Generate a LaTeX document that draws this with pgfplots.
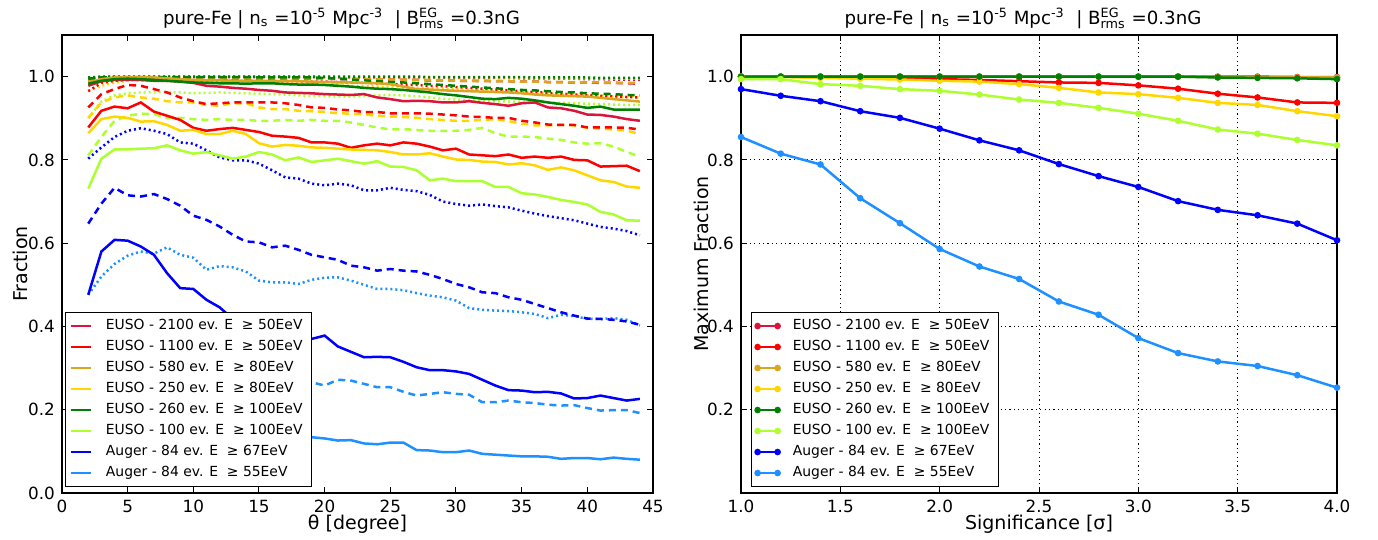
\documentclass[border=0pt]{standalone}
\usepackage{fontspec}
\setmainfont{DejaVu Sans}
\usepackage{amsmath}
\usepackage{pgfplots}
\usepackage{pgfplotstable}
\pgfplotsset{compat=1.18}
\definecolor{crimsonc}{RGB}{220,20,60}
\definecolor{redc}{RGB}{255,0,0}
\definecolor{goldenrodc}{RGB}{218,165,32}
\definecolor{goldc}{RGB}{255,215,0}
\definecolor{greenc}{RGB}{0,128,0}
\definecolor{gyc}{RGB}{173,255,47}
\definecolor{bluec}{RGB}{0,0,255}
\definecolor{dodgerc}{RGB}{30,144,255}

\pgfplotstableread{
x s d o
2 0.978 0.990 0.995
3 0.989 0.995 0.998
4 0.992 0.997 0.999
5 0.993 0.997 0.999
6 0.992 0.997 0.999
7 0.990 0.997 0.999
8 0.990 0.997 0.999
9 0.988 0.997 0.999
10 0.985 0.997 0.999
11 0.978 0.996 0.999
12 0.976 0.996 0.999
13 0.973 0.996 0.999
14 0.971 0.996 0.999
15 0.968 0.996 0.999
16 0.966 0.995 0.999
17 0.962 0.995 0.999
18 0.961 0.995 0.999
19 0.960 0.995 0.999
20 0.958 0.995 0.999
21 0.957 0.994 0.998
22 0.956 0.994 0.998
23 0.958 0.994 0.998
24 0.950 0.993 0.998
25 0.946 0.993 0.998
26 0.941 0.992 0.998
27 0.942 0.992 0.998
28 0.941 0.991 0.998
29 0.938 0.991 0.998
30 0.938 0.990 0.997
31 0.941 0.990 0.997
32 0.937 0.990 0.997
33 0.934 0.989 0.997
34 0.930 0.989 0.997
35 0.936 0.988 0.996
36 0.938 0.988 0.996
37 0.926 0.987 0.996
38 0.924 0.987 0.995
39 0.918 0.986 0.995
40 0.909 0.986 0.994
41 0.908 0.985 0.994
42 0.904 0.985 0.993
43 0.898 0.984 0.993
44 0.894 0.983 0.992
}\crimsonT

\pgfplotstableread{
x s d o
2 0.878 0.926 0.965
3 0.918 0.958 0.985
4 0.928 0.970 0.990
5 0.924 0.980 0.992
6 0.938 0.978 0.992
7 0.916 0.970 0.992
8 0.906 0.962 0.992
9 0.896 0.950 0.992
10 0.877 0.941 0.991
11 0.870 0.934 0.991
12 0.874 0.936 0.991
13 0.877 0.938 0.990
14 0.872 0.938 0.990
15 0.867 0.938 0.990
16 0.858 0.938 0.989
17 0.856 0.936 0.989
18 0.853 0.932 0.989
19 0.842 0.926 0.988
20 0.842 0.925 0.988
21 0.839 0.921 0.987
22 0.829 0.919 0.986
23 0.835 0.915 0.985
24 0.839 0.915 0.984
25 0.835 0.912 0.982
26 0.842 0.912 0.981
27 0.839 0.912 0.980
28 0.832 0.911 0.978
29 0.823 0.909 0.977
30 0.827 0.907 0.975
31 0.813 0.904 0.973
32 0.811 0.903 0.971
33 0.809 0.901 0.969
34 0.813 0.901 0.967
35 0.805 0.894 0.965
36 0.808 0.890 0.963
37 0.805 0.885 0.961
38 0.808 0.884 0.959
39 0.800 0.884 0.957
40 0.799 0.878 0.955
41 0.784 0.878 0.954
42 0.785 0.878 0.953
43 0.786 0.877 0.951
44 0.773 0.873 0.950
}\redT

\pgfplotstableread{
x s d o
2 0.985 0.990 0.997
3 0.994 0.997 1.000
4 0.998 0.998 1.000
5 0.999 0.998 1.000
6 0.999 0.998 1.000
7 0.998 0.998 1.000
8 0.996 0.998 1.000
9 0.994 0.998 1.000
10 0.992 0.998 1.000
11 0.991 0.997 1.000
12 0.991 0.997 1.000
13 0.990 0.997 1.000
14 0.990 0.997 1.000
15 0.990 0.997 1.000
16 0.989 0.996 1.000
17 0.989 0.996 1.000
18 0.989 0.996 0.999
19 0.988 0.996 0.999
20 0.987 0.995 0.999
21 0.986 0.995 0.999
22 0.986 0.995 0.999
23 0.985 0.994 0.999
24 0.984 0.994 0.999
25 0.982 0.993 0.999
26 0.976 0.993 0.999
27 0.970 0.992 0.999
28 0.969 0.992 0.998
29 0.967 0.991 0.998
30 0.966 0.990 0.998
31 0.965 0.990 0.998
32 0.964 0.989 0.998
33 0.963 0.989 0.998
34 0.962 0.989 0.997
35 0.960 0.988 0.997
36 0.957 0.988 0.997
37 0.955 0.987 0.997
38 0.954 0.987 0.996
39 0.953 0.987 0.996
40 0.952 0.986 0.996
41 0.949 0.986 0.996
42 0.946 0.985 0.995
43 0.943 0.985 0.995
44 0.940 0.985 0.995
}\goldenrodT

\pgfplotstableread{
x s d o
2 0.864 0.901 0.966
3 0.898 0.938 0.978
4 0.904 0.950 0.986
5 0.901 0.955 0.990
6 0.892 0.950 0.991
7 0.893 0.947 0.990
8 0.884 0.941 0.990
9 0.870 0.938 0.990
10 0.872 0.938 0.990
11 0.862 0.932 0.989
12 0.862 0.930 0.989
13 0.870 0.936 0.988
14 0.862 0.936 0.987
15 0.840 0.926 0.986
16 0.832 0.922 0.985
17 0.836 0.922 0.984
18 0.834 0.918 0.983
19 0.830 0.917 0.982
20 0.829 0.915 0.980
21 0.827 0.912 0.979
22 0.825 0.911 0.978
23 0.824 0.909 0.977
24 0.823 0.906 0.976
25 0.819 0.904 0.975
26 0.813 0.903 0.974
27 0.813 0.901 0.973
28 0.816 0.898 0.972
29 0.808 0.896 0.971
30 0.801 0.894 0.970
31 0.800 0.894 0.968
32 0.796 0.896 0.967
33 0.795 0.898 0.965
34 0.789 0.893 0.964
35 0.792 0.887 0.962
36 0.787 0.883 0.961
37 0.776 0.883 0.959
38 0.782 0.884 0.958
39 0.775 0.883 0.956
40 0.763 0.877 0.955
41 0.751 0.875 0.954
42 0.747 0.873 0.952
43 0.736 0.870 0.951
44 0.733 0.862 0.950
}\goldT

\pgfplotstableread{
x s d o
2 0.983 0.995 0.998
3 0.990 0.998 1.000
4 0.994 0.999 1.000
5 0.995 0.999 1.000
6 0.994 0.999 1.000
7 0.992 0.999 1.000
8 0.990 0.999 1.000
9 0.988 0.999 1.000
10 0.986 0.999 1.000
11 0.985 0.999 1.000
12 0.984 0.999 1.000
13 0.984 0.999 1.000
14 0.983 0.999 1.000
15 0.984 0.998 1.000
16 0.984 0.998 1.000
17 0.982 0.998 1.000
18 0.981 0.998 1.000
19 0.981 0.998 1.000
20 0.980 0.997 1.000
21 0.978 0.995 1.000
22 0.976 0.993 1.000
23 0.973 0.991 1.000
24 0.971 0.989 1.000
25 0.970 0.987 1.000
26 0.968 0.986 1.000
27 0.965 0.984 1.000
28 0.962 0.982 0.999
29 0.958 0.980 0.999
30 0.955 0.978 0.999
31 0.951 0.976 0.999
32 0.947 0.974 0.999
33 0.946 0.972 0.999
34 0.949 0.970 0.999
35 0.947 0.968 0.999
36 0.943 0.967 0.998
37 0.938 0.965 0.998
38 0.934 0.963 0.998
39 0.930 0.962 0.998
40 0.925 0.960 0.998
41 0.928 0.959 0.997
42 0.921 0.958 0.997
43 0.921 0.956 0.997
44 0.921 0.955 0.997
}\greenT

\pgfplotstableread{
x s d o
2 0.731 0.811 0.900
3 0.803 0.855 0.940
4 0.825 0.894 0.955
5 0.825 0.906 0.960
6 0.827 0.911 0.962
7 0.828 0.910 0.963
8 0.835 0.901 0.963
9 0.823 0.901 0.962
10 0.815 0.898 0.960
11 0.819 0.896 0.961
12 0.811 0.898 0.962
13 0.803 0.896 0.961
14 0.808 0.896 0.960
15 0.819 0.894 0.959
16 0.813 0.894 0.958
17 0.799 0.896 0.957
18 0.806 0.894 0.955
19 0.795 0.896 0.954
20 0.799 0.894 0.953
21 0.803 0.894 0.952
22 0.797 0.890 0.952
23 0.791 0.884 0.953
24 0.797 0.878 0.955
25 0.784 0.873 0.956
26 0.783 0.874 0.955
27 0.775 0.872 0.953
28 0.751 0.870 0.950
29 0.755 0.870 0.947
30 0.749 0.870 0.945
31 0.749 0.872 0.943
32 0.749 0.877 0.942
33 0.735 0.864 0.941
34 0.735 0.856 0.940
35 0.720 0.856 0.940
36 0.717 0.855 0.939
37 0.711 0.851 0.938
38 0.704 0.848 0.937
39 0.699 0.842 0.936
40 0.693 0.839 0.935
41 0.675 0.840 0.934
42 0.669 0.832 0.933
43 0.655 0.819 0.932
44 0.654 0.808 0.932
}\gyT

\pgfplotstableread{
x s d o
2 0.476 0.647 0.803
3 0.580 0.695 0.830
4 0.608 0.733 0.855
5 0.606 0.715 0.870
6 0.592 0.712 0.876
7 0.572 0.718 0.870
8 0.528 0.706 0.862
9 0.492 0.690 0.842
10 0.490 0.666 0.839
11 0.464 0.656 0.823
12 0.446 0.640 0.806
13 0.418 0.620 0.799
14 0.405 0.604 0.799
15 0.395 0.602 0.791
16 0.385 0.590 0.775
17 0.378 0.594 0.758
18 0.376 0.584 0.755
19 0.370 0.572 0.743
20 0.378 0.566 0.739
21 0.352 0.560 0.743
22 0.339 0.546 0.739
23 0.326 0.542 0.727
24 0.327 0.534 0.727
25 0.326 0.538 0.733
26 0.315 0.534 0.728
27 0.302 0.532 0.725
28 0.295 0.524 0.716
29 0.295 0.514 0.700
30 0.292 0.502 0.694
31 0.286 0.494 0.690
32 0.272 0.482 0.693
33 0.258 0.480 0.689
34 0.247 0.470 0.686
35 0.246 0.464 0.678
36 0.242 0.454 0.671
37 0.243 0.444 0.665
38 0.239 0.434 0.660
39 0.227 0.426 0.655
40 0.228 0.419 0.647
41 0.234 0.418 0.639
42 0.228 0.416 0.635
43 0.222 0.412 0.629
44 0.226 0.404 0.619
}\blueT

\pgfplotstableread{
x s d o
2 0.300 0.380 0.476
3 0.330 0.400 0.520
4 0.340 0.410 0.550
5 0.330 0.405 0.570
6 0.310 0.400 0.580
7 0.290 0.390 0.575
8 0.270 0.380 0.590
9 0.250 0.370 0.572
10 0.230 0.360 0.565
11 0.210 0.350 0.536
12 0.200 0.340 0.545
13 0.185 0.330 0.542
14 0.175 0.320 0.532
15 0.165 0.310 0.510
16 0.158 0.300 0.506
17 0.150 0.290 0.506
18 0.144 0.280 0.502
19 0.134 0.266 0.512
20 0.131 0.258 0.517
21 0.126 0.272 0.518
22 0.127 0.270 0.510
23 0.119 0.262 0.500
24 0.117 0.254 0.490
25 0.121 0.254 0.490
26 0.121 0.243 0.487
27 0.103 0.234 0.480
28 0.102 0.238 0.474
29 0.098 0.242 0.470
30 0.098 0.238 0.462
31 0.102 0.236 0.444
32 0.094 0.218 0.440
33 0.092 0.218 0.438
34 0.090 0.222 0.437
35 0.088 0.218 0.434
36 0.088 0.216 0.430
37 0.087 0.212 0.420
38 0.082 0.210 0.428
39 0.084 0.211 0.425
40 0.084 0.204 0.418
41 0.081 0.198 0.418
42 0.085 0.199 0.420
43 0.082 0.199 0.416
44 0.080 0.192 0.402
}\dodgerT

\pgfplotsset{
  base/.style={
    scale only axis, height=229pt, anchor=south west,
    axis line style={line width=0.6pt},
    every tick/.style={black, line width=0.5pt},
    major tick length=3pt,
    tick align=inside,
    /pgf/number format/assume math mode=true,
    tick label style={font=\fontsize{8.4}{10}\selectfont},
    label style={font=\fontsize{9.5}{11}\selectfont},
    xlabel style={at={(axis description cs:0.5,0)}, anchor=base, yshift=-18.5pt},
    title style={font=\fontsize{9.1}{11}\selectfont, at={(axis description cs:0.5,1)}, anchor=base, yshift=-1pt, xshift=-8pt},
    ymin=0, ymax=1.1,
    yticklabel style={/pgf/number format/.cd, fixed, fixed zerofill, precision=1},
    legend cell align=left,
    legend style={draw=black, line width=0.5pt, fill=white,
      font=\fontsize{6.95}{8}\selectfont,
      inner xsep=2pt, inner ysep=1.5pt,
      nodes={text height=5.2pt, text depth=1.4pt, inner ysep=1.95pt, inner xsep=2.5pt}},
  },
  sol/.style={line width=1.25pt},
  dsh/.style={line width=1.25pt, dash pattern=on 3.5pt off 2.5pt},
  dtt/.style={line width=1.25pt, dash pattern=on 1pt off 1.5pt},
}

\newcommand{\grp}[2]{%
  \addplot[#2, dtt, forget plot] table[x=x, y=o]{#1};
  \addplot[#2, dsh, forget plot] table[x=x, y=d]{#1};
}

\begin{document}
\begin{tikzpicture}
\useasboundingbox (0,0) rectangle (689pt,270pt);

\begin{axis}[base, width=295.5pt, at={(31pt,23.5pt)},
  xmin=0, xmax=45, xtick={0,5,...,45},
  ytick={0,0.2,0.4,0.6,0.8,1.0},
  xlabel={θ [degree]}, ylabel={Fraction},
  ylabel style={at={(axis description cs:-0.059,0.5)}, anchor=base},
  title={pure-Fe | n$_{\text{s}}$ =10$^{\text{-5}}$ Mpc$^{\text{-3}}$ \ | B$^{\text{EG}}_{\text{rms}}$ =0.3nG},
  legend image code/.code={\draw[#1] (0pt,0pt) -- (10pt,0pt); \path (14.5pt,0pt);},
  legend style={at={(0.005,0.013)}, anchor=south west},
]
\grp{\dodgerT}{dodgerc}
\grp{\blueT}{bluec}
\grp{\gyT}{gyc}
\grp{\goldT}{goldc}
\grp{\redT}{redc}
\grp{\crimsonT}{crimsonc}
\grp{\goldenrodT}{goldenrodc}
\grp{\greenT}{greenc}
\addplot[crimsonc, sol] table[x=x, y=s]{\crimsonT};
\addlegendentry{EUSO - 2100 ev. E \ ≥ 50EeV}
\addplot[redc, sol] table[x=x, y=s]{\redT};
\addlegendentry{EUSO - 1100 ev. E \ ≥ 50EeV}
\addplot[goldenrodc, sol] table[x=x, y=s]{\goldenrodT};
\addlegendentry{EUSO - 580 ev. E \ ≥ 80EeV}
\addplot[goldc, sol] table[x=x, y=s]{\goldT};
\addlegendentry{EUSO - 250 ev. E \ ≥ 80EeV}
\addplot[greenc, sol] table[x=x, y=s]{\greenT};
\addlegendentry{EUSO - 260 ev. E \ ≥ 100EeV}
\addplot[gyc, sol] table[x=x, y=s]{\gyT};
\addlegendentry{EUSO - 100 ev. E \ ≥ 100EeV}
\addplot[bluec, sol] table[x=x, y=s]{\blueT};
\addlegendentry{Auger - 84 ev. E \ ≥ 67EeV}
\addplot[dodgerc, sol] table[x=x, y=s]{\dodgerT};
\addlegendentry{Auger - 84 ev. E \ ≥ 55EeV}
\end{axis}

\begin{axis}[base, width=298pt, at={(370.5pt,23.5pt)},
  xmin=1, xmax=4, xtick={1,1.5,2,2.5,3,3.5,4},
  xticklabel style={/pgf/number format/.cd, fixed, fixed zerofill, precision=1},
  ytick={0.2,0.4,0.6,0.8,1.0},
  grid=major, major grid style={black, line width=0.5pt, dash pattern=on 0.6pt off 1.6pt},
  xlabel={Significance [σ]}, ylabel={Maximum Fraction},
  ylabel style={at={(axis description cs:-0.054,0.5)}, anchor=base},
  title={pure-Fe | n$_{\text{s}}$ =10$^{\text{-5}}$ Mpc$^{\text{-3}}$ \ | B$^{\text{EG}}_{\text{rms}}$ =0.3nG},
  legend image code/.code={\draw[mark repeat=2, mark phase=1, #1] plot coordinates {(0pt,0pt) (5pt,0pt) (10pt,0pt)}; \path (14.5pt,0pt);},
  legend style={at={(0.017,0.013)}, anchor=south west},
  every axis plot/.append style={sol, mark=*, mark size=1pt, mark options={solid}},
]
\addplot[crimsonc] coordinates {(1.0,1.0) (1.2,1.0) (1.4,1.0) (1.6,1.0) (1.8,1.0) (2.0,1.0) (2.2,1.0) (2.4,1.0) (2.6,1.0) (2.8,1.0) (3.0,1.0) (3.2,1.0) (3.4,1.0) (3.6,1.0) (3.8,0.999) (4.0,0.999)};
\addlegendentry{EUSO - 2100 ev. E \ ≥ 50EeV}
\addplot[redc] coordinates {(1.0,1.0) (1.2,1.0) (1.4,0.999) (1.6,0.998) (1.8,0.996) (2.0,0.994) (2.2,0.992) (2.4,0.989) (2.6,0.986) (2.8,0.985) (3.0,0.979) (3.2,0.971) (3.4,0.959) (3.6,0.950) (3.8,0.938) (4.0,0.937)};
\addlegendentry{EUSO - 1100 ev. E \ ≥ 50EeV}
\addplot[goldenrodc] coordinates {(1.0,1.0) (1.2,1.0) (1.4,1.0) (1.6,1.0) (1.8,1.0) (2.0,1.0) (2.2,1.0) (2.4,1.0) (2.6,1.0) (2.8,1.0) (3.0,1.0) (3.2,1.0) (3.4,0.999) (3.6,0.999) (3.8,0.998) (4.0,0.998)};
\addlegendentry{EUSO - 580 ev. E \ ≥ 80EeV}
\addplot[goldc] coordinates {(1.0,1.0) (1.2,0.999) (1.4,0.997) (1.6,0.995) (1.8,0.993) (2.0,0.990) (2.2,0.988) (2.4,0.982) (2.6,0.973) (2.8,0.962) (3.0,0.958) (3.2,0.949) (3.4,0.937) (3.6,0.932) (3.8,0.917) (4.0,0.905)};
\addlegendentry{EUSO - 250 ev. E \ ≥ 80EeV}
\addplot[greenc] coordinates {(1.0,1.0) (1.2,1.0) (1.4,1.0) (1.6,1.0) (1.8,1.0) (2.0,1.0) (2.2,1.0) (2.4,1.0) (2.6,1.0) (2.8,1.0) (3.0,1.0) (3.2,1.0) (3.4,0.998) (3.6,0.997) (3.8,0.996) (4.0,0.994)};
\addlegendentry{EUSO - 260 ev. E \ ≥ 100EeV}
\addplot[gyc] coordinates {(1.0,0.994) (1.2,0.994) (1.4,0.982) (1.6,0.978) (1.8,0.970) (2.0,0.966) (2.2,0.957) (2.4,0.945) (2.6,0.937) (2.8,0.925) (3.0,0.911) (3.2,0.894) (3.4,0.873) (3.6,0.863) (3.8,0.848) (4.0,0.835)};
\addlegendentry{EUSO - 100 ev. E \ ≥ 100EeV}
\addplot[bluec] coordinates {(1.0,0.970) (1.2,0.954) (1.4,0.941) (1.6,0.917) (1.8,0.901) (2.0,0.875) (2.2,0.847) (2.4,0.823) (2.6,0.790) (2.8,0.761) (3.0,0.735) (3.2,0.701) (3.4,0.680) (3.6,0.667) (3.8,0.647) (4.0,0.607)};
\addlegendentry{Auger - 84 ev. E \ ≥ 67EeV}
\addplot[dodgerc] coordinates {(1.0,0.855) (1.2,0.815) (1.4,0.789) (1.6,0.708) (1.8,0.648) (2.0,0.586) (2.2,0.544) (2.4,0.514) (2.6,0.460) (2.8,0.428) (3.0,0.372) (3.2,0.336) (3.4,0.316) (3.6,0.305) (3.8,0.283) (4.0,0.253)};
\addlegendentry{Auger - 84 ev. E \ ≥ 55EeV}
\end{axis}
\end{tikzpicture}
\end{document}
